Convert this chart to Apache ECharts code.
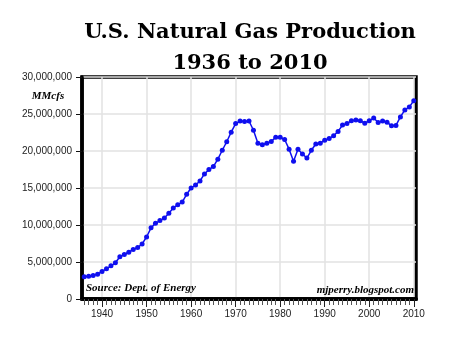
<!DOCTYPE html>
<html><head><meta charset="utf-8">
<script src="https://cdn.jsdelivr.net/npm/echarts@6/dist/echarts.min.js"></script>
<style>html,body{margin:0;padding:0;background:#fff}#c{width:450px;height:341px}</style>
</head><body><div id="c"></div>
<script>
const years = ['1936','1937','1938','1939','1940','1941','1942','1943','1944','1945',
'1946','1947','1948','1949','1950','1951','1952','1953','1954','1955',
'1956','1957','1958','1959','1960','1961','1962','1963','1964','1965',
'1966','1967','1968','1969','1970','1971','1972','1973','1974','1975',
'1976','1977','1978','1979','1980','1981','1982','1983','1984','1985',
'1986','1987','1988','1989','1990','1991','1992','1993','1994','1995',
'1996','1997','1998','1999','2000','2001','2002','2003','2004','2005',
'2006','2007','2008','2009','2010'];
const production = [3000000,3090000,3180000,3360000,3720000,4080000,4480000,4890000,5700000,6010000,
6320000,6690000,6950000,7440000,8380000,9620000,10220000,10600000,10950000,11600000,
12300000,12750000,13100000,14150000,15000000,15400000,15950000,16900000,17500000,17900000,
18900000,20100000,21250000,22550000,23700000,24050000,24000000,24050000,22800000,21050000,
20850000,21050000,21300000,21850000,21850000,21550000,20250000,18600000,20250000,19600000,
19050000,20100000,20950000,21050000,21450000,21700000,22050000,22650000,23500000,23700000,
24100000,24200000,24100000,23750000,24100000,24450000,23850000,24050000,23900000,23400000,
23450000,24600000,25550000,25950000,26800000];
const yMin = 0, yMax = 30000000, yStep = 5000000;
const titleLines = ['U.S. Natural Gas Production', '1936 to 2010'];
const unitLabel = 'MMcfs';
const sourceLabel = 'Source: Dept. of Energy';
const creditLabel = 'mjperry.blogspot.com';

const chart = echarts.init(document.getElementById('c'), null, {renderer: 'canvas'});
const decade = (i) => Number(years[i]) % 10 === 0;
const lineColor = '#0f0fef';
chart.setOption({
  animation: false,
  backgroundColor: '#fff',
  grid: {left: 82, top: 77, width: 334, height: 222, show: true, borderColor: '#000', borderWidth: 3.5, backgroundColor: 'transparent', containLabel: false},
  xAxis: [{
    type: 'category', data: years, boundaryGap: true,
    axisLine: {show: true, lineStyle: {color: '#000', width: 3.5}},
    axisTick: {show: true, alignWithLabel: true, interval: 0, length: 6, lineStyle: {color: '#555', width: 1}},
    axisLabel: {show: false},
    splitLine: {show: true, alignWithLabel: true, interval: (i) => decade(i), lineStyle: {color: '#e2e2e2', width: 1.5}}
  }, {
    type: 'category', data: years, boundaryGap: true, position: 'bottom',
    axisLine: {show: true, lineStyle: {color: '#000', width: 3.5}},
    axisTick: {show: true, alignWithLabel: true, interval: (i) => decade(i), length: 8, lineStyle: {color: '#222', width: 1}},
    axisLabel: {interval: (i) => decade(i), fontSize: 10, color: '#222', margin: 10, fontFamily: 'Liberation Sans'},
    splitLine: {show: false}
  }],
  yAxis: {
    type: 'value', min: yMin, max: yMax, interval: yStep,
    axisLine: {show: true, lineStyle: {color: '#000', width: 3.5}},
    axisTick: {show: true, length: 6, lineStyle: {color: '#111', width: 1}},
    axisLabel: {formatter: (v) => v.toLocaleString('en-US'), fontSize: 10, color: '#222', margin: 10, fontFamily: 'Liberation Sans'},
    splitLine: {show: true, lineStyle: {color: '#e2e2e2', width: 1.5}}
  },
  series: [{
    type: 'line', data: production, xAxisIndex: 0, yAxisIndex: 0,
    symbol: 'circle', symbolSize: 5, showSymbol: true, showAllSymbol: true, clip: false,
    lineStyle: {color: lineColor, width: 1.5}, itemStyle: {color: lineColor}
  }],
  graphic: [
    {type: 'text', x: 250, y: 33, style: {text: titleLines[0], font: 'bold 21px "DejaVu Serif"', fill: '#000', textAlign: 'center', textVerticalAlign: 'middle', align: 'center', verticalAlign: 'middle'}},
    {type: 'text', x: 250, y: 64, style: {text: titleLines[1], font: 'bold 21px "DejaVu Serif"', fill: '#000', textAlign: 'center', textVerticalAlign: 'middle', align: 'center', verticalAlign: 'middle'}},
    {type: 'text', x: 48, y: 96, style: {text: unitLabel, font: 'italic bold 11px "Liberation Serif"', fill: '#000', textAlign: 'center', textVerticalAlign: 'middle', align: 'center', verticalAlign: 'middle'}},
    {type: 'text', x: 86, y: 288, z: 10, style: {text: sourceLabel, font: 'italic bold 11px "Liberation Serif"', fill: '#000', textAlign: 'left', textVerticalAlign: 'middle', align: 'left', verticalAlign: 'middle'}},
    {type: 'text', x: 414, y: 290, z: 10, style: {text: creditLabel, font: 'italic bold 11px "Liberation Serif"', fill: '#000', textAlign: 'right', textVerticalAlign: 'middle', align: 'right', verticalAlign: 'middle'}}
  ]
});
</script></body></html>
